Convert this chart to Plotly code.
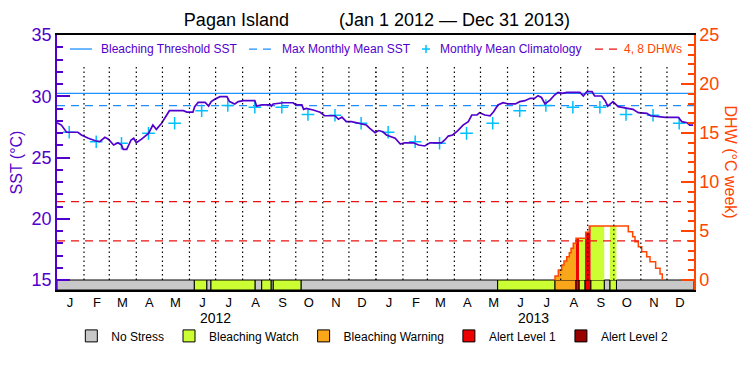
import pandas as pd
import plotly.graph_objects as go

# ---------------- data ----------------
site_name = "Pagan Island"
period_text = "(Jan 1 2012 — Dec 31 2013)"
start_date = pd.Timestamp("2012-01-01")
end_date = pd.Timestamp("2014-01-01")

# SST time series: day offset from 2012-01-01, value in °C
sst_day = [0, 5, 11, 24, 28, 36, 44, 49, 55, 59, 65, 70, 74, 76, 80, 85, 88, 91, 97,
           105, 110, 114, 120, 125, 129, 145, 149, 156, 158, 162, 170, 174, 177, 181,
           187, 195, 198, 204, 208, 214, 227, 229, 235, 245, 246, 248, 260, 271, 274,
           281, 283, 286, 294, 302, 307, 319, 323, 327, 332, 338, 346, 355, 359, 365,
           369, 374, 378, 388, 394, 399, 409, 415, 422, 428, 441, 445, 449, 454, 460,
           466, 472, 476, 482, 485, 491, 497, 501, 506, 512, 518, 526, 531, 537, 543,
           548, 552, 556, 560, 566, 571, 575, 580, 585, 600, 604, 608, 614, 617, 625,
           629, 632, 638, 644, 652, 661, 667, 677, 681, 694, 698, 713, 717, 723, 726, 730]
sst_value = [27.84, 27.65, 27.06, 27.06, 26.84, 26.57, 26.37, 26.29, 26.65, 26.5, 26.02,
             26.2, 26.02, 25.67, 25.67, 26.43, 26.57, 26.2, 26.5, 26.97, 27.65, 27.3,
             27.79, 28.33, 28.82, 28.82, 28.71, 28.7, 29.15, 29.5, 29.5, 29.2, 29.56,
             29.75, 29.97, 29.97, 29.56, 29.37, 29.56, 29.64, 29.64, 29.2, 29.3, 29.3,
             29.2, 29.37, 29.47, 29.47, 29.3, 29.29, 28.93, 29.0, 28.88, 28.69, 28.41,
             28.41, 28.12, 28.3, 27.93, 27.93, 27.79, 27.65, 27.38, 27.03, 27.2, 27.1,
             26.84, 26.57, 26.1, 26.2, 26.2, 26.02, 25.94, 26.2, 26.2, 26.43, 26.75,
             26.84, 27.2, 27.65, 27.93, 28.47, 28.47, 28.66, 28.47, 28.41, 28.74, 29.29,
             29.47, 29.37, 29.37, 29.56, 29.64, 29.83, 29.83, 30.05, 29.9, 29.37, 29.7,
             30.1, 30.32, 30.24, 30.32, 30.32, 30.02, 30.37, 30.37, 30.02, 30.02, 29.64,
             29.2, 29.56, 29.15, 29.02, 28.93, 28.66, 28.6, 28.41, 28.33, 28.28, 28.28,
             27.93, 27.84, 27.65, 27.65]

# Monthly mean climatology (Jan..Dec), plotted mid-month for each year
clim_value = [27.06, 26.29, 26.16, 26.97, 27.79, 28.82, 29.25, 29.1, 29.1, 28.52, 28.45, 27.79]
years = [2012, 2013]

max_monthly_mean = 29.23
bleaching_threshold = 30.23
dhw_levels = [4, 8]

# Degree heating weeks (step function): change day and new value
dhw_day = [571.0, 571.5, 575.3, 579.2, 581.8, 584.9, 587.9, 589.9, 592.5, 595.6, 606.7,
           610.9, 655.6, 660.6, 663.3, 667.1, 671.0, 676.7, 680.5, 687.0, 692.0, 694.6]
dhw_value = [0.0, 0.41, 1.02, 1.53, 1.94, 2.38, 2.79, 3.23, 3.74, 4.25, 4.86,
             5.5, 4.93, 4.42, 3.91, 3.4, 2.89, 2.38, 1.87, 1.19, 0.6, 0.0]

# Stress level segments: start day and level (0 none .. 4 alert 2)
stress_start = [0, 157.6, 171.8, 176.7, 227.2, 234.9, 245.6, 248.2, 280.0, 505.7,
                571.5, 595.6, 599.0, 606.0, 612.5, 628.0, 634.6, 642.0]
stress_level = [0, 1, 0, 1, 0, 1, 0, 1, 0, 1, 2, 3, 1, 3, 1, 0, 1, 0]
stress_names = ["No Stress", "Bleaching Watch", "Bleaching Warning", "Alert Level 1", "Alert Level 2"]
stress_colors = ["#C8C8C8", "#CCFF33", "#FAA61A", "#EE0000", "#990000"]

month_letters = ["J", "F", "M", "A", "M", "J", "J", "A", "S", "O", "N", "D"]

legend_labels = ["Bleaching Threshold SST", "Max Monthly Mean SST",
                 "Monthly Mean Climatology", "4, 8 DHWs"]

# ---------------- styling ----------------
PURPLE = "#5200CC"
ORANGE = "#FF4500"
BLUE = "#1E90FF"
CYAN = "#00BFFF"
RED = "#EE1111"
FONT = "Liberation Sans"
DASH = "8px,6px"

sst_lo, sst_hi = 15, 35
dhw_hi = 25
dhw_per_deg = dhw_hi / (sst_hi - sst_lo)
bar_h = 10 / 12.25           # stress bar height in °C units
y_lo = sst_lo - bar_h
y2_lo = (y_lo - sst_lo) * dhw_per_deg


def to_date(d):
    return start_date + pd.to_timedelta(d, unit="D")


total_days = (end_date - start_date).days
stress_end = stress_start[1:] + [total_days]

fig = go.Figure()


def dhw_at(day):
    v = 0.0
    for d, val in zip(dhw_day, dhw_value):
        if d <= day:
            v = val
        else:
            break
    return v


# DHW fills coloured by stress level
for s, e, lvl in zip(stress_start, stress_end, stress_level):
    if lvl == 0:
        continue
    xs = [s] + [d for d in dhw_day if s < d < e]
    ys = [dhw_at(x) for x in xs]
    xs.append(e)
    ys.append(ys[-1])
    if max(ys) <= 0:
        continue
    fig.add_trace(go.Scatter(x=[to_date(x) for x in xs], y=ys, yaxis="y2",
                             mode="lines", line=dict(width=0, shape="hv"),
                             fill="tozeroy", fillcolor=stress_colors[lvl],
                             showlegend=False, hoverinfo="skip"))

# DHW line
fig.add_trace(go.Scatter(x=[to_date(d) for d in dhw_day], y=dhw_value, yaxis="y2",
                         mode="lines", line=dict(color=ORANGE, width=1.5, shape="hv"),
                         showlegend=False))

x_full = [start_date, end_date]
fig.add_trace(go.Scatter(x=x_full, y=[bleaching_threshold] * 2, mode="lines",
                         line=dict(color=BLUE, width=1.3), showlegend=False))
fig.add_trace(go.Scatter(x=x_full, y=[max_monthly_mean] * 2, mode="lines",
                         line=dict(color=BLUE, width=1.3, dash=DASH), showlegend=False))
fig.add_trace(go.Scatter(
    x=[pd.Timestamp(y, m + 1, 15) for y in years for m in range(12)],
    y=clim_value * len(years), mode="markers",
    marker=dict(symbol="cross-thin", size=9, line=dict(color=CYAN, width=1.5)),
    showlegend=False))
dx, dy = [], []
for lv in dhw_levels:
    dx += [start_date, end_date, None]
    dy += [lv, lv, None]
fig.add_trace(go.Scatter(x=dx, y=dy, yaxis="y2", mode="lines",
                         line=dict(color=RED, width=1.3, dash=DASH), showlegend=False))

# SST
fig.add_trace(go.Scatter(x=[to_date(d) for d in sst_day], y=sst_value, mode="lines",
                         line=dict(color=PURPLE, width=1.7), showlegend=False))

# Stress bar
for lvl, name in enumerate(stress_names):
    idx = [i for i, l in enumerate(stress_level) if l == lvl]
    if idx:
        base = [to_date(stress_start[i]) for i in idx]
        dur = [(stress_end[i] - stress_start[i]) * 86400000 for i in idx]
        yy = [y_lo + bar_h / 2] * len(idx)
    else:
        base, dur, yy = None, [None], [None]
    fig.add_trace(go.Bar(orientation="h", base=base, x=dur, y=yy, width=bar_h,
                         marker=dict(color=stress_colors[lvl], line=dict(color="black", width=1)),
                         name=name, legend="legend2", hoverinfo="skip"))

# month boundary dotted lines
for ms in pd.date_range("2012-02-01", "2013-12-01", freq="MS"):
    fig.add_shape(type="line", x0=ms, x1=ms, y0=sst_lo, y1=32.55, xref="x", yref="y",
                  line=dict(color="black", width=1.6 if ms.month == 1 else 1.2,
                            dash="1.5px,3px"),
                  layer="above")

# year labels
for y in years:
    fig.add_annotation(x=pd.Timestamp(y, 7, 1), y=-0.11, xref="x", yref="paper",
                       xanchor="center", yanchor="middle",
                       text=str(y), showarrow=False, font=dict(size=14, color="black"))

# right axis title
fig.add_annotation(x=1.058, y=0.5, xref="paper", yref="paper", text="DHW (°C week)",
                   xanchor="center", yanchor="middle",
                   textangle=90, showarrow=False, font=dict(size=16, color=ORANGE))

# top legend (drawn manually to match the compact single row)
leg_y = 0.945
sym_x = [(0.0204, 0.0549), (0.3014, 0.3391), (0.5793, None), (0.8446, 0.8791)]
txt_x = [0.0659, 0.3501, 0.5981, 0.887]
sym_style = [dict(color=BLUE, width=1.3), dict(color=BLUE, width=1.3, dash=DASH),
             None, dict(color=RED, width=1.3, dash=DASH)]
txt_col = [PURPLE, PURPLE, PURPLE, ORANGE]
for (x0, x1), tx, st, label, col in zip(sym_x, txt_x, sym_style, legend_labels, txt_col):
    if st is not None:
        fig.add_shape(type="line", xref="paper", yref="paper", x0=x0, x1=x1,
                      y0=leg_y, y1=leg_y, line=st)
    else:
        fig.add_shape(type="line", xref="paper", yref="paper", x0=x0 - 0.0063, x1=x0 + 0.0063,
                      y0=leg_y, y1=leg_y, line=dict(color=CYAN, width=1.5))
        fig.add_shape(type="line", xref="paper", yref="paper", x0=x0, x1=x0,
                      y0=leg_y - 0.016, y1=leg_y + 0.016, line=dict(color=CYAN, width=1.5))
    fig.add_annotation(x=tx, y=leg_y, xref="paper", yref="paper", xanchor="left",
                       yanchor="middle", text=label, showarrow=False,
                       font=dict(size=12, color=col))

mid_months = [pd.Timestamp(y, m + 1, 16) for y in years for m in range(12)]

fig.update_layout(
    width=742, height=367,
    margin=dict(l=49, r=56, t=27, b=85, autoexpand=False),
    plot_bgcolor="white", paper_bgcolor="white",
    font=dict(family=FONT, color="black"),
    barmode="overlay",
    title=dict(text=site_name + "&nbsp;" * 10 + period_text, x=0.4973, xref="container",
               y=1 - 12 / 367, yref="container", xanchor="center", yanchor="middle",
               font=dict(size=18, color="black")),
    xaxis=dict(type="date", range=[start_date, end_date], showline=True, linecolor="black",
               linewidth=1.5, mirror=True, ticks="", tickvals=mid_months,
               ticktext=month_letters * len(years), tickfont=dict(size=13, color="black"),
               showgrid=False, zeroline=False),
    yaxis=dict(range=[y_lo, sst_hi], tickvals=list(range(15, 36, 5)), ticks="inside",
               ticklen=13, tickwidth=1.5, tickcolor=PURPLE, showline=True, linecolor=PURPLE,
               linewidth=1.5, tickfont=dict(size=18, color=PURPLE), showgrid=False,
               zeroline=False,
               title=dict(text="SST (°C)", font=dict(size=16, color=PURPLE), standoff=6),
               minor=dict(dtick=1, tick0=15, ticks="inside", ticklen=6, tickcolor=PURPLE,
                          tickwidth=1.5, showgrid=False)),
    yaxis2=dict(range=[y2_lo, dhw_hi], overlaying="y", side="right",
                tickvals=list(range(0, 26, 5)), ticks="inside", ticklen=13, tickwidth=1.5,
                tickcolor=ORANGE, showline=True, linecolor=ORANGE, linewidth=1.5,
                tickfont=dict(size=18, color=ORANGE), showgrid=False, zeroline=False,
                minor=dict(dtick=1, tick0=0, ticks="inside", ticklen=6, tickcolor=ORANGE,
                           tickwidth=1.5, showgrid=False)),
    showlegend=True,
    legend2=dict(orientation="h", x=0.495, y=-0.18, xanchor="center", yanchor="middle",
                 font=dict(size=12, color="black"), bgcolor="rgba(0,0,0,0)"),
)

fig.write_html("out.html")
